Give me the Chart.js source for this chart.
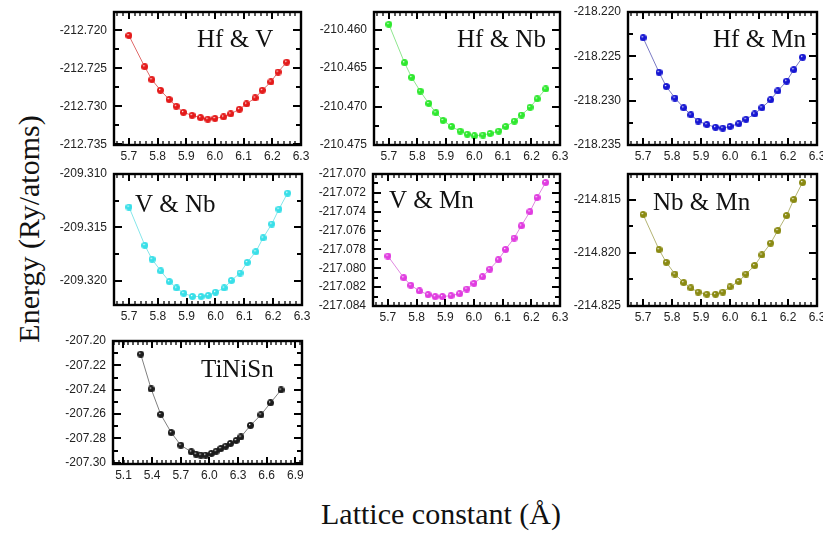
<!DOCTYPE html>
<html>
<head>
<meta charset="utf-8">
<script src="https://cdn.jsdelivr.net/npm/chart.js@4.4.0/dist/chart.umd.min.js"></script>
<style>
  html, body { margin: 0; padding: 0; background: #fff; }
  #page { position: relative; width: 823px; height: 533px; overflow: hidden; background: #fff; }
  #page canvas { position: absolute; }
  .title { position: absolute; font-family: "Liberation Serif", "Times New Roman", serif; font-size: 30px; color: #111; white-space: nowrap; line-height: 1; }
  #ytitle { left: 29px; top: 229px; transform: translate(-50%, -50%) rotate(-90deg); }
  #xtitle { left: 441px; top: 499px; transform: translateX(-50%); }
  #err { position: absolute; left: 330px; top: 340px; width: 480px; font: 11px monospace; color: #c00; white-space: pre-wrap; }
</style>
</head>
<body>
<div id="page">
  <div class="title" id="ytitle">Energy (Ry/atoms)</div>
  <div class="title" id="xtitle">Lattice constant (Å)</div>
  <div id="err"></div>
</div>
<script>
/* lattice constants (Å) */
const lattice = [5.70, 5.755, 5.78, 5.81, 5.84, 5.865, 5.89, 5.92, 5.95, 5.975, 6.00, 6.03, 6.055, 6.085, 6.11, 6.14, 6.165, 6.195, 6.22, 6.25];
const latticeTiNiSn = [5.28, 5.39, 5.49, 5.60, 5.70, 5.81, 5.86, 5.91, 5.96, 6.02, 6.07, 6.12, 6.17, 6.22, 6.28, 6.33, 6.43, 6.54, 6.64, 6.75];

/* total energies (Ry/atoms) */
const eHfV = [-212.7207, -212.7248, -212.7265, -212.7279, -212.7291, -212.7300, -212.7308, -212.7312, -212.7315, -212.7317, -212.7316, -212.7314, -212.7310, -212.7304, -212.7297, -212.7289, -212.7279, -212.7268, -212.7255, -212.7242];
const eHfNb = [-210.4593, -210.4643, -210.4662, -210.4680, -210.4696, -210.4708, -210.4718, -210.4726, -210.4732, -210.4736, -210.4738, -210.4737, -210.4735, -210.4732, -210.4726, -210.4719, -210.4711, -210.4701, -210.4690, -210.4677];
const eHfMn = [-218.2229, -218.2268, -218.2284, -218.2297, -218.2308, -218.2316, -218.2323, -218.2327, -218.2330, -218.2331, -218.2329, -218.2326, -218.2321, -218.2315, -218.2308, -218.2299, -218.2289, -218.2278, -218.2265, -218.2251];
const eVNb = [-209.3131, -209.3167, -209.3180, -209.3191, -209.3201, -209.3207, -209.3212, -209.3215, -209.3215, -209.3214, -209.3211, -209.3207, -209.3200, -209.3193, -209.3183, -209.3173, -209.3160, -209.3147, -209.3133, -209.3118];
const eVMn = [-217.0787, -217.0810, -217.0818, -217.0824, -217.0828, -217.0830, -217.0830, -217.0829, -217.0827, -217.0822, -217.0816, -217.0809, -217.0801, -217.0791, -217.0780, -217.0768, -217.0755, -217.0740, -217.0725, -217.0709];
const eNbMn = [-214.8164, -214.8197, -214.8209, -214.8220, -214.8228, -214.8233, -214.8237, -214.8239, -214.8239, -214.8237, -214.8232, -214.8227, -214.8220, -214.8212, -214.8202, -214.8191, -214.8179, -214.8165, -214.8150, -214.8134];
const eTiNiSn = [-207.2108, -207.2394, -207.2603, -207.2752, -207.2856, -207.2910, -207.2929, -207.2937, -207.2937, -207.2923, -207.2905, -207.2883, -207.2864, -207.2842, -207.2817, -207.2788, -207.2693, -207.2606, -207.2508, -207.2402];

/* tick labels */
const xTicks = [5.7, 5.8, 5.9, 6.0, 6.1, 6.2, 6.3];
const xTicksTiNiSn = [5.1, 5.4, 5.7, 6.0, 6.3, 6.6, 6.9];
const yTicksHfV = [-212.735, -212.730, -212.725, -212.720];
const yTicksHfNb = [-210.475, -210.470, -210.465, -210.460];
const yTicksHfMn = [-218.235, -218.230, -218.225, -218.220];
const yTicksVNb = [-209.320, -209.315, -209.310];
const yTicksVMn = [-217.084, -217.082, -217.080, -217.078, -217.076, -217.074, -217.072, -217.070];
const yTicksNbMn = [-214.825, -214.820, -214.815];
const yTicksTiNiSn = [-207.30, -207.28, -207.26, -207.24, -207.22, -207.20];

const $ = id => document.getElementById(id);
const page = $('page');
const logErr = s => { $('err').textContent += s + '\n'; };

// shaded ball used as the marker
function ball(color, d) {
  const c = document.createElement('canvas');
  c.width = c.height = d;
  const g = c.getContext('2d');
  const r = d / 2;
  const grad = g.createRadialGradient(r * 0.7, r * 0.65, 0.2, r, r, r);
  grad.addColorStop(0, '#ffffff');
  grad.addColorStop(0.3, color);
  grad.addColorStop(1, color);
  g.fillStyle = grad;
  g.beginPath();
  g.arc(r, r, r, 0, Math.PI * 2);
  g.fill();
  return c;
}

function minorValues(min, max, step) {
  const out = [];
  for (let k = Math.ceil(min / step - 1e-6); k <= Math.floor(max / step + 1e-6); k++) out.push(k * step);
  return out;
}

// Origin style frame: box + inward ticks on all four sides, plus the panel label
function makeFrame(p, xt, xMinor, yMinor) {
  return {
    id: 'frame',
    afterDraw(chart) {
      try {
        const ctx = chart.ctx, a = chart.chartArea, sx = chart.scales.x, sy = chart.scales.y;
        ctx.save();
        ctx.strokeStyle = '#000';
        const drawX = (vals, len, lw) => {
          ctx.lineWidth = lw;
          ctx.beginPath();
          vals.forEach(v => {
            const q = Math.round(sx.getPixelForValue(v));
            ctx.moveTo(q, a.bottom); ctx.lineTo(q, a.bottom - len);
            ctx.moveTo(q, a.top); ctx.lineTo(q, a.top + len);
          });
          ctx.stroke();
        };
        const drawY = (vals, len, lw) => {
          ctx.lineWidth = lw;
          ctx.beginPath();
          vals.forEach(v => {
            const q = Math.round(sy.getPixelForValue(v));
            ctx.moveTo(a.left, q); ctx.lineTo(a.left + len, q);
            ctx.moveTo(a.right, q); ctx.lineTo(a.right - len, q);
          });
          ctx.stroke();
        };
        drawX(minorValues(sx.min, sx.max, xMinor), 4, 1.3);
        drawX(xt, 7, 2);
        drawY(minorValues(sy.min, sy.max, yMinor), 5, 2);
        drawY(p.yt, 8, 2);
        ctx.lineWidth = 2.4;
        ctx.strokeRect(a.left, a.top, a.right - a.left, a.bottom - a.top);
        ctx.fillStyle = '#111';
        ctx.font = '25px "Liberation Serif", "Times New Roman", serif';
        ctx.textBaseline = 'alphabetic';
        ctx.fillText(p.label, a.left + p.lx, a.top + p.ly);
        ctx.restore();
      } catch (e) { logErr(p.label + ': ' + e.message); }
    }
  };
}

const panels = [
  { label: 'Hf & V', x: lattice, y: eHfV, box: [114, 12, 301, 145], ymin: -212.7351, ymax: -212.7176, yt: yTicksHfV, dig: 3, col: '#e41a1a', line: '#e06a6a', lx: 83, ly: 35 },
  { label: 'Hf & Nb', x: lattice, y: eHfNb, box: [374, 12, 560, 145], ymin: -210.475, ymax: -210.4577, yt: yTicksHfNb, dig: 3, col: '#2ee82e', line: '#8ee68e', lx: 83, ly: 35 },
  { label: 'Hf & Mn', x: lattice, y: eHfMn, box: [628, 12, 817, 145], ymin: -218.235, ymax: -218.220, yt: yTicksHfMn, dig: 3, col: '#1616d2', line: '#7a7ac4', lx: 85, ly: 35 },
  { label: 'V & Nb', x: lattice, y: eVNb, box: [114, 174, 302, 305], ymin: -209.3223, ymax: -209.310, yt: yTicksVNb, dig: 3, col: '#38dfe8', line: '#86e6ea', lx: 21, ly: 38 },
  { label: 'V & Mn', x: lattice, y: eVMn, box: [373, 174, 560, 306], ymin: -217.084, ymax: -217.070, yt: yTicksVMn, dig: 3, col: '#e03ce0', line: '#e088e0', lx: 16, ly: 34 },
  { label: 'Nb & Mn', x: lattice, y: eNbMn, box: [628, 174, 817, 306], ymin: -214.825, ymax: -214.8126, yt: yTicksNbMn, dig: 3, col: '#8a8a12', line: '#b4b474', lx: 25, ly: 36 },
  { label: 'TiNiSn', x: latticeTiNiSn, y: eTiNiSn, box: [113, 341, 302, 464], ymin: -207.301, ymax: -207.2, yt: yTicksTiNiSn, dig: 2, col: '#1c1c1c', line: '#808080', lx: 88, ly: 36, tin: true }
];

const PADL = 62, PADT = 8, PADR = 8, PADB = 26;
const tickFont = { family: '"Liberation Sans", Arial, sans-serif', size: 12 };

panels.forEach(p => {
  const [l, t, r, b] = p.box;
  const cv = document.createElement('canvas');
  cv.width = (r - l) + PADL + PADR;
  cv.height = (b - t) + PADT + PADB;
  cv.style.left = (l - PADL) + 'px';
  cv.style.top = (t - PADT) + 'px';
  page.appendChild(cv);

  const xt = p.tin ? xTicksTiNiSn : xTicks;
  const yMinor = Math.abs(p.yt[1] - p.yt[0]) / 2;
  const xMinor = p.tin ? 0.05 : 0.02;

  const chart = new Chart(cv.getContext('2d'), {
    type: 'line',
    data: {
      datasets: [{
        data: p.x.map((v, i) => ({ x: v, y: p.y[i] })),
        borderColor: p.line,
        borderWidth: 1,
        pointStyle: ball(p.col, 7),
        pointRadius: 3.5
      }]
    },
    options: {
      responsive: false,
      animation: false,
      devicePixelRatio: 1,
      layout: { autoPadding: false, padding: { left: 0, top: PADT, right: PADR, bottom: 0 } },
      plugins: { legend: { display: false }, tooltip: { enabled: false } },
      scales: {
        x: {
          type: 'linear',
          min: p.tin ? 4.99 : 5.648,
          max: p.tin ? 6.97 : 6.30,
          grid: { display: false, drawTicks: false },
          border: { display: false },
          afterBuildTicks: s => { s.ticks = xt.map(v => ({ value: v })); },
          afterFit: s => { s.height = PADB; s.paddingLeft = 0; s.paddingRight = 0; },
          ticks: { autoSkip: false, maxRotation: 0, minRotation: 0, padding: 4, color: '#222', font: tickFont,
                   callback: v => Number(v).toFixed(1) }
        },
        y: {
          type: 'linear',
          min: p.ymin,
          max: p.ymax,
          grid: { display: false, drawTicks: false },
          border: { display: false },
          afterBuildTicks: s => { s.ticks = p.yt.map(v => ({ value: v })); },
          afterFit: s => { s.width = PADL; s.paddingTop = 0; s.paddingBottom = 0; },
          ticks: { autoSkip: false, padding: 7, color: '#222', font: tickFont,
                   callback: v => Number(v).toFixed(p.dig) }
        }
      }
    },
    plugins: [makeFrame(p, xt, xMinor, yMinor)]
  });

  // nudge the canvas so the plot box lands where the reference has it
  const a = chart.chartArea;
  cv.style.left = (l - a.left) + 'px';
  cv.style.top = (t - a.top) + 'px';
});
</script>
</body>
</html>
